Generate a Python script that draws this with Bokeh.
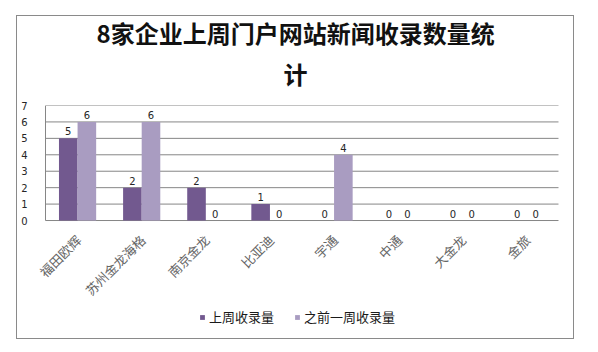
from bokeh.plotting import figure
from bokeh.models import ColumnDataSource, FactorRange, FixedTicker, Title, Legend, LegendItem
from bokeh.transform import dodge
from bokeh.core.properties import value
from bokeh.embed import file_html
from bokeh.resources import INLINE
import math

categories = ["福田欧辉", "苏州金龙海格", "南京金龙", "比亚迪", "宇通", "中通", "大金龙", "金旅"]
last_week = [5, 2, 2, 1, 0, 0, 0, 0]
week_before = [6, 6, 0, 0, 4, 0, 0, 0]
series_names = ["上周收录量", "之前一周收录量"]
title_lines = ["8家企业上周门户网站新闻收录数量统", "计"]
y_ticks = [0, 1, 2, 3, 4, 5, 6, 7]

DARK = "#72598F"
LIGHT = "#A99CC1"
CJK = "Noto Sans CJK SC"
GRID = "#868686"
Y_MIN, Y_MAX = -7.18, 7

src = ColumnDataSource(dict(
    cat=categories, a=last_week, b=week_before,
    at=[str(v) for v in last_week], bt=[str(v) for v in week_before],
    zero=[0] * len(categories),
))

p = figure(x_range=FactorRange(*categories, range_padding=0.234, range_padding_units="absolute"),
           y_range=(Y_MIN, Y_MAX), title=None,
           frame_width=543, frame_height=233, output_backend="svg", toolbar_location=None,
           min_border_left=13, min_border_right=0, min_border_top=89, min_border_bottom=0,
           margin=(15, 0, 0, 16), styles={"border": "1px solid #8a8a8a"})
p.outline_line_color = None
p.background_fill_color = "white"
p.border_fill_color = "white"

# horizontal grid lines across the category span only
grid_src = ColumnDataSource(dict(
    c0=[categories[0]] * len(y_ticks), c1=[categories[-1]] * len(y_ticks), y=y_ticks))
p.segment(x0=dodge("c0", -0.5, range=p.x_range), x1=dodge("c1", 0.5, range=p.x_range),
          y0="y", y1="y", source=grid_src, line_color=GRID, line_width=1)
p.segment(x0=dodge("c", -0.5, range=p.x_range), x1=dodge("c", -0.5, range=p.x_range),
          y0="y0", y1="y1", source=ColumnDataSource(dict(c=[categories[0]], y0=[0], y1=[Y_MAX])),
          line_color=GRID, line_width=1)

rA = p.vbar(x=dodge("cat", -0.145, range=p.x_range), top="a", width=0.29, source=src,
            fill_color=DARK, line_color=None)
rB = p.vbar(x=dodge("cat", 0.145, range=p.x_range), top="b", width=0.29, source=src,
            fill_color=LIGHT, line_color=None)

for col, off in (("at", -0.145), ("bt", 0.145)):
    p.text(x=dodge("cat", off, range=p.x_range), y=col[0], text=col, source=src,
           text_align="center", text_baseline="bottom", y_offset=-3,
           text_font=value("DejaVu Sans"), text_font_size="10px", text_color="#262626")

# category labels, rotated 45 degrees under the baseline
p.text(x="cat", y="zero", text="cat", source=src, angle=math.pi / 4,
       text_align="right", text_baseline="middle", x_offset=1, y_offset=17,
       text_font=value(CJK), text_font_size="13px", text_color="#666666")
p.xaxis.visible = False

# y axis
p.yaxis.ticker = FixedTicker(ticks=y_ticks)
p.yaxis.major_tick_line_color = None
p.yaxis.minor_tick_line_color = None
p.yaxis.axis_line_color = None
p.yaxis.major_label_standoff = -3
p.yaxis.major_label_text_font = "DejaVu Sans"
p.yaxis.major_label_text_font_size = "10px"
p.yaxis.major_label_text_color = "#262626"

p.ygrid.grid_line_color = None
p.xgrid.grid_line_color = None

# two-line title (nearest to the frame added first)
p.add_layout(Title(text=title_lines[1], align="left", offset=253, standoff=29,
                   text_font=CJK, text_font_size="24px", text_font_style="bold",
                   text_color="#111111"), "above")
p.add_layout(Title(text=title_lines[0], align="left", offset=66, standoff=-21,
                   text_font=CJK, text_font_size="24px", text_font_style="bold",
                   text_color="#111111"), "above")

legend = Legend(items=[LegendItem(label=series_names[0], renderers=[rA]),
                       LegendItem(label=series_names[1], renderers=[rB])],
                orientation="horizontal", location=(169, 12),
                glyph_width=6, glyph_height=6, label_standoff=4, spacing=20,
                label_height=14, padding=0, margin=0, border_line_color=None,
                background_fill_alpha=0,
                label_text_font=CJK, label_text_font_size="13px", label_text_color="#1a1a1a")
p.add_layout(legend, "center")

open("out.html", "w").write(file_html(p, INLINE))
